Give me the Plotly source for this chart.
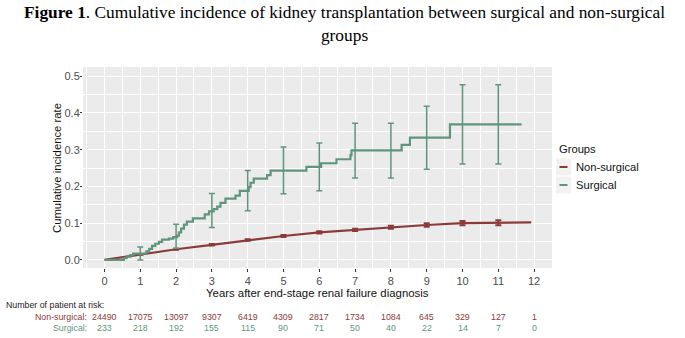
import plotly.graph_objects as go

# ---------------- data ----------------
years = list(range(0, 13))
year_ticks = [str(y) for y in years]

# Surgical cumulative incidence (step function)
surg_t = [0, 0.54, 0.62, 0.72, 0.80, 1.17, 1.25, 1.33, 1.42, 1.52, 1.61, 1.80, 1.92, 2.03, 2.08,
          2.14, 2.22, 2.30, 2.47, 2.80, 2.92, 3.05, 3.15, 3.24, 3.38, 3.66, 3.78, 4.03, 4.08,
          4.17, 4.54, 4.64, 5.64, 6.05, 6.48, 6.87, 6.90, 8.30, 8.53, 9.65, 11.65]
surg_v = [0, 0.005, 0.009, 0.013, 0.017, 0.023, 0.030, 0.038, 0.044, 0.049, 0.055, 0.058, 0.062,
          0.066, 0.075, 0.085, 0.096, 0.104, 0.113, 0.124, 0.132, 0.138, 0.145, 0.155, 0.167,
          0.175, 0.188, 0.198, 0.210, 0.221, 0.231, 0.243, 0.253, 0.263, 0.274, 0.285, 0.298,
          0.313, 0.333, 0.369, 0.369]

# Surgical CI at yearly time points
surg_ci_t = [1, 2, 3, 4, 5, 6, 7, 8, 9, 10, 11]
surg_ci_mid = [0.017, 0.064, 0.132, 0.190, 0.243, 0.253, 0.298, 0.298, 0.333, 0.369, 0.369]
surg_ci_lo = [0.000, 0.032, 0.088, 0.134, 0.180, 0.188, 0.223, 0.223, 0.247, 0.261, 0.261]
surg_ci_hi = [0.035, 0.097, 0.181, 0.243, 0.307, 0.318, 0.372, 0.372, 0.418, 0.477, 0.477]

# Non-surgical cumulative incidence
non_t = [0, 1, 2, 3, 4, 5, 6, 7, 8, 9, 10, 11, 11.92]
non_v = [0, 0.015, 0.029, 0.041, 0.054, 0.065, 0.075, 0.082, 0.089, 0.095, 0.100, 0.101, 0.102]
non_ci_t = [1, 2, 3, 4, 5, 6, 7, 8, 9, 10, 11]
non_ci_mid = [0.015, 0.029, 0.041, 0.054, 0.065, 0.075, 0.082, 0.089, 0.095, 0.100, 0.101]
non_ci_half = [0.001, 0.0015, 0.002, 0.002, 0.0025, 0.003, 0.003, 0.004, 0.005, 0.006, 0.007]

# Number at risk
risk_non = [24490, 17075, 13097, 9307, 6419, 4309, 2817, 1734, 1084, 645, 329, 127, 1]
risk_surg = [233, 218, 192, 155, 115, 90, 71, 50, 40, 22, 14, 7, 0]

groups = ["Non-surgical", "Surgical"]
RED = "#8B3A3A"
GREEN = "#5F957C"

# ---------------- figure ----------------
fig = go.Figure()

fig.add_trace(go.Scatter(x=non_t, y=non_v, mode="lines", name=groups[0],
                         line=dict(color=RED, width=2.2), showlegend=False))
fig.add_trace(go.Scatter(x=non_ci_t, y=non_ci_mid, mode="markers", showlegend=False,
                         marker=dict(size=1, color=RED),
                         error_y=dict(type="data", array=non_ci_half, color=RED,
                                      thickness=2, width=3)))
fig.add_trace(go.Scatter(x=surg_t, y=surg_v, mode="lines", name=groups[1],
                         line=dict(color=GREEN, width=2.2, shape="hv"), showlegend=False))
fig.add_trace(go.Scatter(x=surg_ci_t, y=surg_ci_mid, mode="markers", showlegend=False,
                         marker=dict(size=1, color=GREEN),
                         error_y=dict(type="data", symmetric=False,
                                      array=[h - m for h, m in zip(surg_ci_hi, surg_ci_mid)],
                                      arrayminus=[m - l for l, m in zip(surg_ci_lo, surg_ci_mid)],
                                      color=GREEN, thickness=1.5, width=3)))

L, R, T, B = 83, 133, 67, 70
W, H = 685, 338
pw, ph = W - L - R, H - T - B

def px_x(x):
    return (x - L) / pw

def px_y(y):
    return (H - B - y) / ph

annotations = []
# Title
annotations.append(dict(
    text="<b>Figure 1</b>. Cumulative incidence of kidney transplantation between surgical and non-surgical<br>groups",
    x=px_x(344), y=px_y(1), xref="paper", yref="paper", xanchor="center", yanchor="top",
    showarrow=False, align="center",
    font=dict(family="Liberation Serif, Times New Roman, serif", size=17.35, color="black")))
# Axis titles
annotations.append(dict(text="Years after end-stage renal failure diagnosis",
                        x=0.5, y=px_y(292.5), xref="paper", yref="paper",
                        xanchor="center", yanchor="middle", showarrow=False,
                        font=dict(size=11.4, color="#111111")))
annotations.append(dict(text="Cumulative incidence rate", textangle=-90,
                        x=px_x(57), y=px_y(168), xref="paper", yref="paper",
                        xanchor="center", yanchor="middle", showarrow=False,
                        font=dict(size=11.3, color="#111111")))
# Risk table
annotations.append(dict(text="Number of patient at risk:", x=px_x(4), y=px_y(304.5), xref="paper",
                        yref="paper", xanchor="left", yanchor="middle", showarrow=False,
                        font=dict(size=8.8, color="#222222")))
annotations.append(dict(text="Non-surgical:", x=px_x(89), y=px_y(316.5), xref="paper",
                        yref="paper", xanchor="right", yanchor="middle", showarrow=False,
                        font=dict(size=8.8, color=RED)))
annotations.append(dict(text="Surgical:", x=px_x(89), y=px_y(328), xref="paper",
                        yref="paper", xanchor="right", yanchor="middle", showarrow=False,
                        font=dict(size=8.8, color=GREEN)))
for yr, n in zip(years, risk_non):
    annotations.append(dict(text=str(n), x=yr, y=px_y(316.5), xref="x", yref="paper",
                            xanchor="center", yanchor="middle", showarrow=False,
                            font=dict(size=8.8, color=RED)))
for yr, n in zip(years, risk_surg):
    annotations.append(dict(text=str(n), x=yr, y=px_y(328), xref="x", yref="paper",
                            xanchor="center", yanchor="middle", showarrow=False,
                            font=dict(size=8.8, color=GREEN)))

# Manual legend
annotations.append(dict(text="Groups", x=px_x(557), y=px_y(149), xref="paper", yref="paper",
                        xanchor="left", yanchor="middle", showarrow=False,
                        font=dict(size=11.2, color="#111111")))
shapes = []
for i, (g, c) in enumerate(zip(groups, [RED, GREEN])):
    cy = 167 + 18 * i
    shapes.append(dict(type="rect", xref="paper", yref="paper",
                       x0=px_x(556), x1=px_x(571), y0=px_y(cy - 8.5), y1=px_y(cy + 8.5),
                       fillcolor="#F2F2F2", line=dict(width=0), layer="below"))
    shapes.append(dict(type="line", xref="paper", yref="paper",
                       x0=px_x(559.5), x1=px_x(567.5), y0=px_y(cy), y1=px_y(cy),
                       line=dict(color=c, width=2)))
    annotations.append(dict(text=g, x=px_x(574), y=px_y(cy), xref="paper", yref="paper",
                            xanchor="left", yanchor="middle", showarrow=False,
                            font=dict(size=11.2, color="#111111")))

fig.update_layout(
    width=W, height=H,
    margin=dict(l=L, r=R, t=T, b=B, pad=0, autoexpand=False),
    paper_bgcolor="white",
    plot_bgcolor="#EBEBEB",
    font=dict(family="Liberation Sans, Arial, sans-serif", color="#111111"),
    showlegend=False,
    annotations=annotations,
    shapes=shapes,
)

fig.update_xaxes(
    range=[-0.6, 12.5], tickmode="array", tickvals=years, ticktext=year_ticks,
    showgrid=True, gridcolor="white", gridwidth=1.1, zeroline=False, automargin=False,
    minor=dict(dtick=0.5, tick0=0, showgrid=True, gridcolor="white", gridwidth=0.5),
    ticks="outside", ticklen=3, tickcolor="#333333", tickwidth=1,
    ticklabelstandoff=0,
    tickfont=dict(size=11, color="#4D4D4D"),
    showline=False,
)
fig.update_yaxes(
    range=[-0.022, 0.525], tickmode="array", tickvals=[0, 0.1, 0.2, 0.3, 0.4, 0.5],
    ticktext=["0.0", "0.1", "0.2", "0.3", "0.4", "0.5"],
    showgrid=True, gridcolor="white", gridwidth=1.1, zeroline=False, automargin=False,
    minor=dict(dtick=0.05, tick0=0, showgrid=True, gridcolor="white", gridwidth=0.5),
    ticks="outside", ticklen=2, tickcolor="#333333", tickwidth=1,
    ticklabelstandoff=-2,
    tickfont=dict(size=11, color="#4D4D4D"),
    showline=False,
)

fig.write_html("out.html", config={"displayModeBar": False},
               post_script="document.body.style.margin='0';document.body.style.padding='0';")
